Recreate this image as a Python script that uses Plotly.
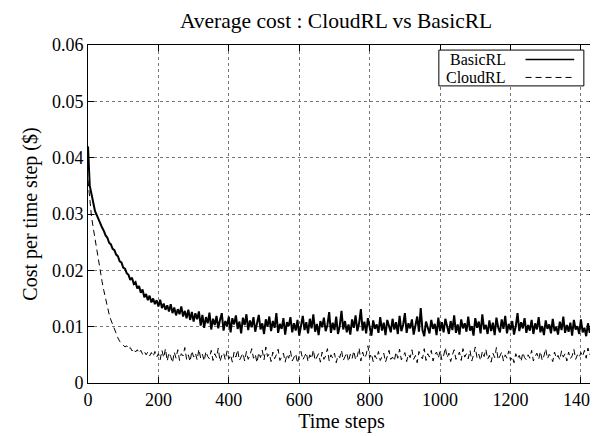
import plotly.graph_objects as go

time_steps = list(range(0, 1441, 5))

basic_rl = [
    0.0420, 0.0350, 0.0335, 0.0318, 0.0305, 0.0298, 0.0290, 0.0282, 0.0276, 0.0270,
    0.0262, 0.0258, 0.0249, 0.0246, 0.0238, 0.0236, 0.0228, 0.0225, 0.0216, 0.0214,
    0.0205, 0.0203, 0.0195, 0.0192, 0.0183, 0.0187, 0.0176, 0.0179, 0.0168, 0.0172,
    0.0160, 0.0166, 0.0152, 0.0158, 0.0147, 0.0155, 0.0143, 0.0150, 0.0140, 0.0147,
    0.0136, 0.0148, 0.0133, 0.0141, 0.0130, 0.0138, 0.0127, 0.0140, 0.0124, 0.0134,
    0.0120, 0.0131, 0.0122, 0.0136, 0.0118, 0.0128, 0.0115, 0.0130, 0.0112, 0.0126,
    0.0109, 0.0124, 0.0113, 0.0127,
    0.0102, 0.0121, 0.0098, 0.0117, 0.0106, 0.0125, 0.0095, 0.0114, 0.0103, 0.0119,
    0.0097, 0.0112, 0.0124, 0.0093, 0.0110, 0.0101, 0.0118, 0.0090, 0.0115, 0.0104,
    0.0120, 0.0096, 0.0109, 0.0088, 0.0116, 0.0103, 0.0122, 0.0094, 0.0111, 0.0099,
    0.0117, 0.0091, 0.0108, 0.0121, 0.0095, 0.0106, 0.0087, 0.0113, 0.0100, 0.0118,
    0.0092, 0.0110, 0.0098, 0.0124, 0.0089, 0.0105, 0.0096, 0.0115, 0.0086, 0.0108,
    0.0101, 0.0117, 0.0090, 0.0106, 0.0093, 0.0112, 0.0084, 0.0103, 0.0119, 0.0094,
    0.0108, 0.0088, 0.0114, 0.0097, 0.0122, 0.0091, 0.0105, 0.0085, 0.0110, 0.0099,
    0.0116, 0.0092, 0.0103, 0.0126, 0.0089, 0.0107, 0.0094, 0.0118, 0.0087, 0.0101,
    0.0128, 0.0095, 0.0110, 0.0090, 0.0104, 0.0086, 0.0113, 0.0098, 0.0120, 0.0092,
    0.0106, 0.0131, 0.0093, 0.0109, 0.0088, 0.0115, 0.0100, 0.0084, 0.0111, 0.0096,
    0.0104, 0.0089, 0.0117, 0.0093, 0.0107, 0.0085, 0.0112, 0.0098, 0.0090, 0.0114,
    0.0095, 0.0108, 0.0087, 0.0119, 0.0092, 0.0103, 0.0124, 0.0089, 0.0106, 0.0097,
    0.0113, 0.0086, 0.0102, 0.0118, 0.0091, 0.0133, 0.0094, 0.0083, 0.0109, 0.0100,
    0.0088, 0.0112, 0.0096, 0.0105, 0.0085, 0.0116, 0.0092, 0.0108, 0.0090, 0.0114,
    0.0098, 0.0087, 0.0110, 0.0094, 0.0120, 0.0089, 0.0104, 0.0086, 0.0113, 0.0097,
    0.0106, 0.0091, 0.0118, 0.0093, 0.0101, 0.0084, 0.0115, 0.0098, 0.0109, 0.0088,
    0.0122, 0.0095, 0.0103, 0.0087, 0.0111, 0.0092, 0.0107, 0.0085, 0.0116, 0.0099,
    0.0090, 0.0113, 0.0096, 0.0119, 0.0088, 0.0105, 0.0094, 0.0110, 0.0086, 0.0101,
    0.0124, 0.0092, 0.0108, 0.0097, 0.0115, 0.0089, 0.0103, 0.0093, 0.0112, 0.0087,
    0.0106, 0.0095, 0.0117, 0.0090, 0.0101, 0.0085, 0.0111, 0.0096, 0.0104, 0.0088,
    0.0114, 0.0092, 0.0100, 0.0086, 0.0109, 0.0094, 0.0118, 0.0089, 0.0103, 0.0091,
    0.0107, 0.0084, 0.0112, 0.0095, 0.0101, 0.0087, 0.0113, 0.0090, 0.0098, 0.0083,
    0.0106, 0.0089, 0.0102, 0.0086, 0.0097,
]

cloud_rl = [
    0.0360, 0.0320, 0.0295, 0.0275, 0.0255, 0.0235, 0.0215, 0.0197, 0.0180, 0.0164,
    0.0148, 0.0135, 0.0122, 0.0112, 0.0103, 0.0094, 0.0086, 0.0080, 0.0074, 0.0070,
    0.0068, 0.0064, 0.0066, 0.0060, 0.0063, 0.0057, 0.0061, 0.0055, 0.0059, 0.0053,
    0.0058, 0.0051, 0.0056, 0.0050, 0.0055, 0.0048, 0.0054, 0.0047, 0.0056, 0.0046,
    0.0052, 0.0041, 0.0058, 0.0045, 0.0061, 0.0039, 0.0054, 0.0047, 0.0036, 0.0055,
    0.0044, 0.0059, 0.0040, 0.0052, 0.0048, 0.0063, 0.0042, 0.0050, 0.0038, 0.0057,
    0.0046, 0.0053, 0.0041, 0.0060, 0.0044, 0.0051, 0.0039, 0.0056, 0.0047, 0.0043,
    0.0058, 0.0040, 0.0052, 0.0045, 0.0062, 0.0038, 0.0049, 0.0054, 0.0041, 0.0057,
    0.0043, 0.0050, 0.0037, 0.0055, 0.0046, 0.0059, 0.0040, 0.0048, 0.0053, 0.0039,
    0.0056, 0.0042, 0.0049, 0.0061, 0.0044, 0.0051, 0.0036, 0.0054, 0.0045, 0.0058,
    0.0041, 0.0064, 0.0047, 0.0052, 0.0038, 0.0055, 0.0043, 0.0050, 0.0060, 0.0040,
    0.0048, 0.0053, 0.0037, 0.0051, 0.0044, 0.0057, 0.0039, 0.0046, 0.0052, 0.0035,
    0.0049, 0.0056, 0.0041, 0.0047, 0.0054, 0.0038, 0.0050, 0.0043, 0.0059, 0.0040,
    0.0046, 0.0052, 0.0037, 0.0055, 0.0042, 0.0048, 0.0061, 0.0039, 0.0050, 0.0044,
    0.0053, 0.0036, 0.0049, 0.0045, 0.0058, 0.0040, 0.0047, 0.0054, 0.0038, 0.0051,
    0.0043, 0.0057, 0.0041, 0.0048, 0.0062, 0.0039, 0.0055, 0.0044, 0.0050, 0.0066,
    0.0045, 0.0052, 0.0038, 0.0049, 0.0043, 0.0056, 0.0040, 0.0047, 0.0053, 0.0037,
    0.0050, 0.0058, 0.0042, 0.0046, 0.0039, 0.0055, 0.0044, 0.0060, 0.0041, 0.0048,
    0.0054, 0.0038, 0.0051, 0.0045, 0.0059, 0.0042, 0.0049, 0.0036, 0.0056, 0.0047,
    0.0043, 0.0061, 0.0040, 0.0052, 0.0046, 0.0058, 0.0039, 0.0050, 0.0055, 0.0044,
    0.0057, 0.0041, 0.0048, 0.0063, 0.0045, 0.0053, 0.0038, 0.0050, 0.0059, 0.0042,
    0.0047, 0.0055, 0.0040, 0.0061, 0.0046, 0.0052, 0.0043, 0.0058, 0.0039, 0.0050,
    0.0064, 0.0044, 0.0051, 0.0040, 0.0056, 0.0047, 0.0060, 0.0042, 0.0049, 0.0037,
    0.0053, 0.0045, 0.0063, 0.0041, 0.0048, 0.0055, 0.0039, 0.0050, 0.0044, 0.0057,
    0.0040, 0.0047, 0.0036, 0.0052, 0.0043, 0.0049, 0.0038, 0.0054, 0.0045, 0.0041,
    0.0050, 0.0044, 0.0058, 0.0039, 0.0047, 0.0053, 0.0042, 0.0056, 0.0040, 0.0048,
    0.0061, 0.0043, 0.0051, 0.0046, 0.0038, 0.0055, 0.0044, 0.0049, 0.0041, 0.0057,
    0.0046, 0.0052, 0.0039, 0.0055, 0.0043, 0.0048, 0.0060, 0.0042, 0.0050, 0.0045,
    0.0054, 0.0047, 0.0058, 0.0044, 0.0062, 0.0050, 0.0057, 0.0041, 0.0036,
]

assert len(basic_rl) == len(time_steps), len(basic_rl)
assert len(cloud_rl) == len(time_steps), len(cloud_rl)

x_ticks = [0, 200, 400, 600, 800, 1000, 1200, 1400]
y_ticks = [0, 0.01, 0.02, 0.03, 0.04, 0.05, 0.06]
y_tick_labels = ["0", "0.01", "0.02", "0.03", "0.04", "0.05", "0.06"]
series_names = ["BasicRL", "CloudRL"]

FONT = "Liberation Serif, Times New Roman, serif"
DASH = "6px,4px"

fig = go.Figure()
fig.add_trace(go.Scatter(x=time_steps, y=basic_rl, mode="lines", name=series_names[0],
                         line=dict(color="black", width=2), showlegend=False))
fig.add_trace(go.Scatter(x=time_steps, y=cloud_rl, mode="lines", name=series_names[1],
                         line=dict(color="black", width=1, dash=DASH), showlegend=False))

axis_common = dict(
    showline=True, linecolor="black", linewidth=1, mirror="allticks",
    ticks="inside", ticklen=6, tickcolor="black", tickwidth=1,
    showgrid=True, gridcolor="#777777", gridwidth=1, griddash="dot",
    zeroline=False, automargin=False, ticklabeloverflow="allow",
    tickfont=dict(family=FONT, size=18, color="black"),
)

fig.update_xaxes(range=[0, 1440], tickvals=x_ticks,
                 title=dict(text="Time steps", font=dict(family=FONT, size=20, color="black"), standoff=2),
                 **axis_common)
fig.update_yaxes(range=[0, 0.06], tickvals=y_ticks, ticktext=y_tick_labels,
                 title=dict(text="Cost per time step ($)", font=dict(family=FONT, size=20, color="black"), standoff=8),
                 **axis_common)

# gnuplot-style key: text right-aligned, sample line to the right
legend_shapes = [
    dict(type="rect", xref="paper", yref="paper", x0=0.692, x1=0.978, y0=0.879, y1=0.985,
         line=dict(color="black", width=1), fillcolor="white", layer="above"),
    dict(type="line", xref="paper", yref="paper", x0=0.863, x1=0.959, y0=0.957, y1=0.957,
         line=dict(color="black", width=1.6), layer="above"),
    dict(type="line", xref="paper", yref="paper", x0=0.863, x1=0.959, y0=0.904, y1=0.904,
         line=dict(color="black", width=1, dash=DASH), layer="above"),
]
legend_texts = [
    dict(text=series_names[0], xref="paper", yref="paper", x=0.828, y=0.957,
         xanchor="right", yanchor="middle", showarrow=False,
         font=dict(family=FONT, size=16, color="black")),
    dict(text=series_names[1], xref="paper", yref="paper", x=0.828, y=0.904,
         xanchor="right", yanchor="middle", showarrow=False,
         font=dict(family=FONT, size=16, color="black")),
]

# the page body adds an 8px offset, so the figure is sized to fit the 598x436 window
fig.update_layout(
    width=590, height=428,
    margin=dict(l=80, r=3, t=37, b=53),
    paper_bgcolor="white", plot_bgcolor="white",
    title=dict(text="Average cost : CloudRL vs BasicRL", x=0.556, xanchor="center",
               y=1 - 12 / 428, yref="container", yanchor="middle",
               font=dict(family=FONT, size=21.5, color="black")),
    shapes=legend_shapes,
    annotations=legend_texts,
)

fig.write_html("out.html")
